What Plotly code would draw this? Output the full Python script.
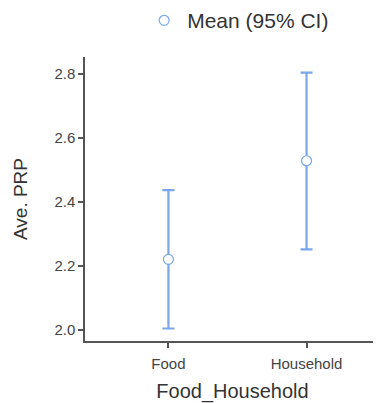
import plotly.graph_objects as go

categories = ["Food", "Household"]
means = [2.221, 2.529]
lower = [2.005, 2.252]
upper = [2.437, 2.804]

color = "#7aa6ec"
W, H = 373, 395  # page body has an 8px margin; keep plot positions aligned with the 381x403 window

fig = go.Figure()
fig.add_trace(go.Scatter(
    x=categories, y=means, mode="markers", name="Mean (95% CI)",
    marker=dict(symbol="circle", size=10, color="white", line=dict(color=color, width=1.2)),
    error_y=dict(type="data", symmetric=False,
                 array=[u - m for u, m in zip(upper, means)],
                 arrayminus=[m - l for m, l in zip(means, lower)],
                 color=color, thickness=2.2, width=6),
))
fig.update_layout(
    width=W, height=H,
    margin=dict(l=77, r=1, t=49, b=62, autoexpand=False),
    paper_bgcolor="white", plot_bgcolor="white",
    font=dict(family="Liberation Sans, Arial, sans-serif", color="#333333"),
    showlegend=True,
    legend=dict(orientation="h", xref="container", yref="container",
                x=0.357, y=0.968, xanchor="left", yanchor="middle",
                font=dict(size=21, color="#333333"), itemwidth=36),
    xaxis=dict(range=[-0.604, 1.532], showline=True, linecolor="#555555", linewidth=1.5,
               ticks="outside", ticklen=5, tickcolor="#555555", tickwidth=1.5,
               showgrid=False, zeroline=False, automargin=False, ticklabelstandoff=3,
               tickfont=dict(size=15, color="#444444"),
               title=dict(text="Food_Household", font=dict(size=20, color="#333333"), standoff=14)),
    yaxis=dict(range=[1.966, 2.853], showline=True, linecolor="#555555", linewidth=1.5,
               ticks="outside", ticklen=5, tickcolor="#555555", tickwidth=1.5,
               showgrid=False, zeroline=False, tickvals=[2.0, 2.2, 2.4, 2.6, 2.8],
               tickformat=".1f", automargin=False,
               tickfont=dict(size=15, color="#444444"),
               title=dict(text="Ave. PRP", font=dict(size=19, color="#333333"), standoff=22)),
)
fig.write_html("out.html")
